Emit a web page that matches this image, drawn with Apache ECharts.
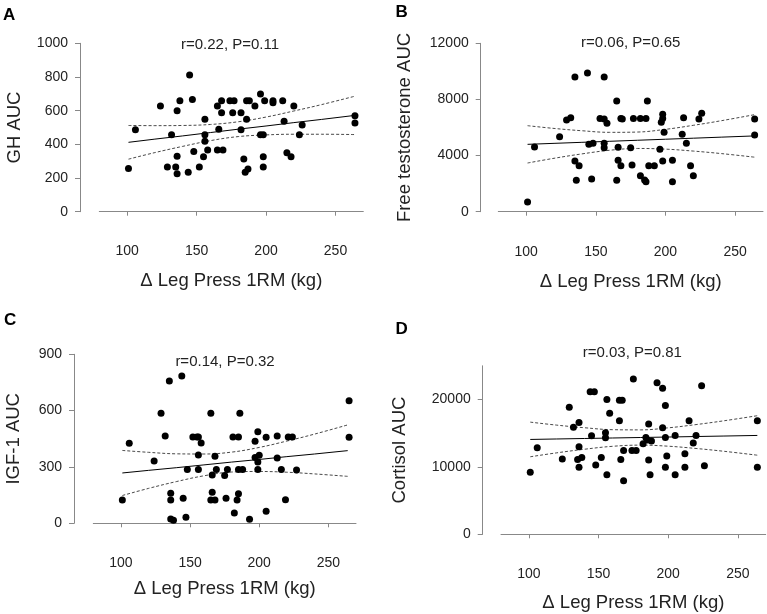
<!DOCTYPE html>
<html><head><meta charset="utf-8">
<script src="https://cdn.jsdelivr.net/npm/echarts@6/dist/echarts.min.js"></script>
<style>html,body{margin:0;padding:0;background:#fff}#c{width:767px;height:614px}</style>
</head><body><div id="c"></div>
<script>
// ---- data ----
const xTicks = [100, 150, 200, 250];
const ciX = [101, 120, 140, 160, 180, 200, 220, 240, 264];

// A: GH AUC
const aX = [101,106,124,132,129,136,138,136,135,136,145,147,144,148,152,155,156,156,156,158,165,166,165,168,168,169,174,177,176,182,182,184,186,186,188,185,187,192,196,196,198,199,198,198,205,205,212,213,215,218,220,224,226,264,264];
const aY = [257,487,628,457,265,600,659,329,265,226,812,667,234,358,265,327,549,457,418,366,628,489,366,659,588,366,659,659,588,588,487,313,549,659,659,234,253,628,699,457,457,659,327,265,659,647,659,537,350,327,628,457,515,570,527];
const aFit = [412,431,450,470,490,509,529,548,572];
const aUp  = [512,511,512,518,534,562,598,636,686];
const aLo  = [312,351,388,422,446,456,460,460,458];

// B: Free testosterone AUC
const bX = [101,106,124,129,132,135,144,156,135,138,136,147,145,148,153,156,158,156,156,165,165,168,169,177,182,186,187,198,198,197,213,226,224,264,264,199,212,215,166,175,196,166,168,176,188,192,198,205,218,182,185,186,205,220];
const bY = [690,4610,5340,6530,6700,9600,9880,9600,3610,3280,2240,2330,4800,4870,6650,6600,6300,4870,4560,7890,2240,6650,6600,6650,6650,6650,7890,6940,6650,6370,6700,7010,6600,6600,5470,5660,5520,4870,4590,4560,4450,3660,3280,3330,3280,3280,3610,3660,3280,2560,2260,2140,2140,2560];
const bFit = [4800,4870,4944,5017,5091,5164,5238,5312,5400];
const bUp  = [6130,5934,5769,5655,5676,5869,6156,6482,6916];
const bLo  = [3470,3806,4119,4379,4506,4459,4320,4142,3884];

// C: IGF-1 AUC
const cX = [101,106,124,129,132,135,136,136,136,138,144,145,147,148,152,155,156,158,156,156,165,166,166,165,168,168,169,176,175,177,181,185,182,184,185,186,185,188,193,197,197,199,199,200,199,205,205,213,213,216,219,221,224,227,265,265];
const cY = [124,426,332,586,465,758,160,124,23,16,785,133,32,286,459,459,459,428,364,286,586,257,165,124,124,357,286,133,254,286,459,459,55,124,158,586,286,286,21,437,350,327,488,362,286,458,64,348,465,286,126,459,459,284,653,458];
const cFit = [268,282,296,311,326,340,355,369,387];
const cUp  = [388,378,370,369,379,404,438,475,524];
const cLo  = [148,186,222,253,273,276,272,263,250];

// D: Cortisol AUC
const dX = [101,106,124,129,132,136,136,135,138,136,144,147,145,148,152,156,155,155,156,158,168,165,167,165,166,168,175,174,177,182,184,185,186,186,187,188,192,196,196,198,198,198,199,205,205,212,212,215,218,220,224,226,264,264];
const dY = [9190,12840,11160,18860,15900,16590,12990,11110,11410,9930,21140,21140,14620,10270,11410,20000,15060,14320,8840,17970,7950,19900,19900,16840,11110,12440,23060,12440,12440,13430,14370,13980,16350,11010,8840,13830,22470,21680,15800,19110,14370,9930,11610,14670,8840,11950,9930,16840,13530,14670,22030,10170,16840,9930];
const dFit = [14073,14142,14215,14288,14361,14433,14506,14579,14666];
const dUp  = [16643,16198,15808,15522,15492,15795,16279,16841,17596];
const dLo  = [11503,12086,12622,13054,13230,13071,12733,12317,11736];

const letters = ['A','B','C','D'];
const stats = ['r=0.22, P=0.11','r=0.06, P=0.65','r=0.14, P=0.32','r=0.03, P=0.81'];
const yNames = ['GH AUC','Free testosterone AUC','IGF-1 AUC','Cortisol AUC'];
const xName = '\u0394 Leg Press 1RM (kg)';
const yTicks = [[0,200,400,600,800,1000],[0,4000,8000,12000],[0,300,600,900],[0,10000,20000]];
const yMax = [1000, 12000, 900, 25000];

const dataX = [aX,bX,cX,dX], dataY = [aY,bY,cY,dY];
const fits = [aFit,bFit,cFit,dFit], ups = [aUp,bUp,cUp,dUp], los = [aLo,bLo,cLo,dLo];

// ---- layout ----
const L = [
  {left:99.3, top:43.3, width:264, height:168.4, yOff:19.3, xOff:18.3, yGap:56, xGap:41, title:[230,45], letter:[3,15]},
  {left:498.3, top:43.3, width:264.7, height:168.4, yOff:17.6, xOff:19, yGap:66, xGap:42, title:[630.7,43.3], letter:[395.5,12.5]},
  {left:93.3, top:354.3, width:262.7, height:169, yOff:19.3, xOff:19, yGap:51, xGap:37.5, title:[225,361.7], letter:[4,320.5]},
  {left:501, top:365.8, width:264.7, height:168.5, yOff:18.3, xOff:18.4, yGap:73, xGap:40.5, title:[632.3,353.3], letter:[395.5,329.5]}
];

const FONT = 'Liberation Sans';
const AX = '#888', TX = '#222';
const grid = [], xAxis = [], yAxis = [], series = [], graphic = [];
const zip = (xs, ys) => xs.map((x, i) => [x, ys[i]]);
const plain = v => String(v);

for (let i = 0; i < 4; i++) {
  const l = L[i];
  grid.push({left:l.left, top:l.top, width:l.width, height:l.height, containLabel:false, outerBoundsMode:'none'});
  xAxis.push({
    type:'value', gridIndex:i, min:80, max:270, offset:l.xOff,
    axisLine:{show:true, lineStyle:{color:AX, width:1}},
    axisTick:{show:true, length:4, lineStyle:{color:AX, width:1}, customValues:xTicks},
    axisLabel:{color:TX, fontSize:14, fontFamily:FONT, margin:14, customValues:xTicks, formatter:plain},
    splitLine:{show:false},
    name:xName, nameLocation:'middle', nameGap:l.xGap,
    nameTextStyle:{color:TX, fontSize:18.5, fontFamily:FONT}
  });
  yAxis.push({
    type:'value', gridIndex:i, min:0, max:yMax[i], offset:l.yOff,
    axisLine:{show:true, lineStyle:{color:AX, width:1}},
    axisTick:{show:true, length:5, lineStyle:{color:AX, width:1}, customValues:yTicks[i]},
    axisLabel:{color:TX, fontSize:14, fontFamily:FONT, margin:12, customValues:yTicks[i], formatter:plain},
    splitLine:{show:false},
    name:yNames[i], nameLocation:'middle', nameGap:l.yGap,
    nameTextStyle:{color:TX, fontSize:18.5, fontFamily:FONT}
  });
  series.push({
    type:'scatter', xAxisIndex:i, yAxisIndex:i, data:zip(dataX[i], dataY[i]),
    symbolSize:7, itemStyle:{color:'#000', opacity:1}, silent:true, z:3
  });
  series.push({
    type:'line', xAxisIndex:i, yAxisIndex:i, data:zip(ciX, fits[i]),
    symbol:'none', lineStyle:{color:'#000', width:1}, silent:true, z:2
  });
  [ups[i], los[i]].forEach(arr => series.push({
    type:'line', xAxisIndex:i, yAxisIndex:i, data:zip(ciX, arr),
    symbol:'none', smooth:0.4, lineStyle:{color:'#333', width:0.9, type:[3,2]}, silent:true, z:2
  }));
  graphic.push({type:'text', x:l.title[0], y:l.title[1],
    style:{text:stats[i], textAlign:'center', textVerticalAlign:'middle', font:'15px "'+FONT+'"', fill:TX}});
  graphic.push({type:'text', x:l.letter[0], y:l.letter[1],
    style:{text:letters[i], textAlign:'left', textVerticalAlign:'middle', font:'bold 17px "'+FONT+'"', fill:'#000'}});
}

const chart = echarts.init(document.getElementById('c'), null, {renderer:'canvas'});
chart.setOption({animation:false, backgroundColor:'#fff', grid, xAxis, yAxis, series, graphic});
</script>
</body></html>
